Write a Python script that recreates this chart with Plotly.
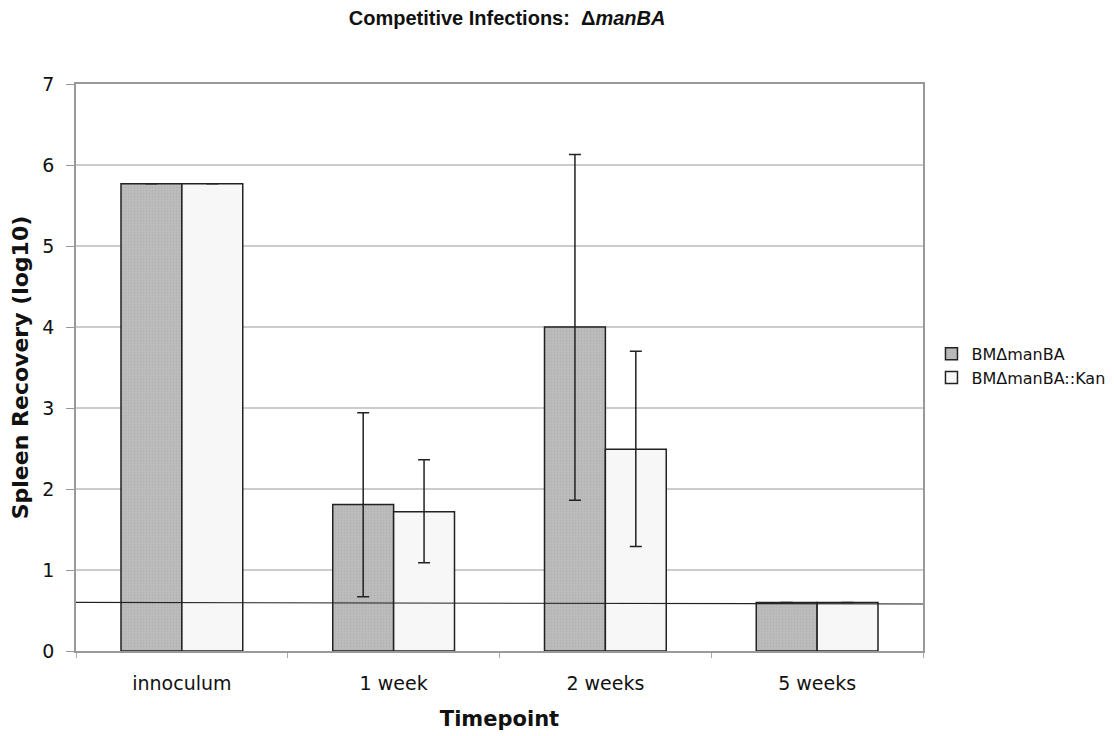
import plotly.graph_objects as go

categories = ["innoculum", "1 week", "2 weeks", "5 weeks"]
series_names = ["BMΔmanBA", "BMΔmanBA::Kan"]
gray_values = [5.77, 1.81, 4.00, 0.60]
gray_err_plus = [0, 1.13, 2.13, 0]
gray_err_minus = [0, 1.14, 2.14, 0]
white_values = [5.77, 1.72, 2.49, 0.60]
white_err_plus = [0, 0.64, 1.21, 0]
white_err_minus = [0, 0.63, 1.20, 0]
detection_limit = 0.59
y_ticks = [0, 1, 2, 3, 4, 5, 6, 7]

fig = go.Figure()
fig.add_trace(go.Bar(
    name=series_names[0], x=categories, y=gray_values,
    marker=dict(color="#b9b9b9", line=dict(color="#222222", width=1.5),
                pattern=dict(shape=".", fgcolor="#a8a8a8", bgcolor="#bdbdbd", size=3, solidity=0.3)),
    error_y=dict(type="data", symmetric=False, array=gray_err_plus, arrayminus=gray_err_minus,
                 color="#222222", thickness=1.5, width=6),
))
fig.add_trace(go.Bar(
    name=series_names[1], x=categories, y=white_values,
    marker=dict(color="#f7f7f7", line=dict(color="#222222", width=1.5)),
    error_y=dict(type="data", symmetric=False, array=white_err_plus, arrayminus=white_err_minus,
                 color="#222222", thickness=1.5, width=6),
))

fig.add_shape(type="line", xref="paper", yref="y", x0=0, x1=1, y0=detection_limit + 0.01,
              y1=detection_limit - 0.01, line=dict(color="#222222", width=1.2), layer="above")

fig.update_layout(
    width=1114, height=736,
    paper_bgcolor="white", plot_bgcolor="white",
    margin=dict(l=68, r=197, t=76, b=93),
    barmode="group", bargap=0.425, bargroupgap=0,
    font=dict(family="DejaVu Sans", color="#111111"),
    title=dict(text="<b>Competitive Infections:  Δ<i>manBA</i></b>",
               font=dict(family="Liberation Sans", size=20, color="#111111"),
               x=0.448, xanchor="center", y=0.986, yanchor="middle"),
    xaxis=dict(showline=True, linecolor="#999999", linewidth=1.5, mirror=True,
               ticks="outside", tickson="boundaries", ticklen=5, tickcolor="#aaaaaa",
               ticklabelstandoff=14,
               tickfont=dict(size=19), automargin=False,
               title=dict(text="<b>Timepoint</b>", font=dict(size=21), standoff=19)),
    yaxis=dict(range=[0, 7], tickvals=y_ticks, showgrid=True, gridcolor="#cccccc", gridwidth=1.5,
               showline=True, linecolor="#999999", linewidth=1.5, mirror=True,
               ticks="outside", ticklen=8, tickcolor="#999999", tickfont=dict(size=19),
               ticklabelstandoff=8,
               zeroline=False, automargin=False,
               title=dict(text="<b>Spleen Recovery (log10)</b>", font=dict(size=22), standoff=10)),
    legend=dict(x=1.01, xanchor="left", y=0.503, yanchor="middle", itemwidth=30,
                font=dict(size=16), bgcolor="rgba(0,0,0,0)", tracegroupgap=4),
    showlegend=True,
)

fig.write_html("out.html")
